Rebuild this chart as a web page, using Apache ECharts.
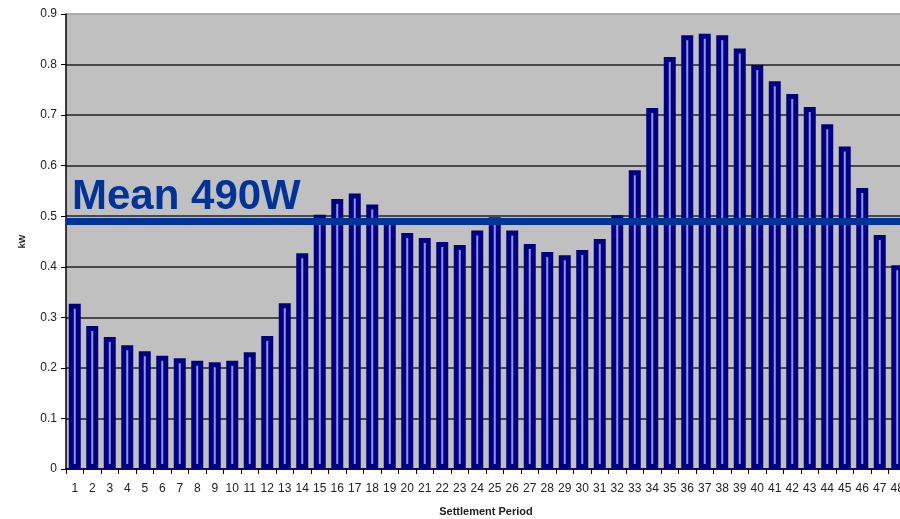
<!DOCTYPE html>
<html>
<head>
<meta charset="utf-8">
<script src="https://cdn.jsdelivr.net/npm/echarts@6/dist/echarts.min.js"></script>
<style>
  html, body { margin: 0; padding: 0; background: #fff; }
  #main { width: 900px; height: 519px; }
</style>
</head>
<body>
<div id="main"></div>
<script>
// settlement periods 1..48
const periods = [];
for (let i = 1; i <= 48; i++) periods.push(String(i));

// average demand per half hour, kW
const demandKw = [
  0.327, 0.283, 0.261, 0.245, 0.233, 0.224, 0.219, 0.214, 0.211, 0.214,
  0.231, 0.263, 0.328, 0.427, 0.503, 0.534, 0.545, 0.523, 0.494, 0.467,
  0.457, 0.449, 0.443, 0.472, 0.498, 0.472, 0.445, 0.429, 0.423, 0.433,
  0.455, 0.502, 0.591, 0.714, 0.815, 0.858, 0.861, 0.858, 0.832, 0.799,
  0.767, 0.742, 0.716, 0.682, 0.638, 0.556, 0.463, 0.403
];

const meanKw = 0.49;
const yTicks = [0, 0.1, 0.2, 0.3, 0.4, 0.5, 0.6, 0.7, 0.8, 0.9];

const chart = echarts.init(document.getElementById('main'));

const option = {
  animation: false,
  backgroundColor: '#ffffff',
  textStyle: { fontFamily: 'Liberation Sans, Arial, sans-serif' },
  grid: {
    left: 66,
    top: 14,
    width: 840,
    height: 455,
    outerBoundsMode: 'none',
    containLabel: false,
    show: true,
    backgroundColor: '#c0c0c0',
    borderWidth: 0
  },
  xAxis: {
    type: 'category',
    data: periods,
    name: 'Settlement Period',
    nameLocation: 'middle',
    nameGap: 37,
    nameTextStyle: { fontSize: 11, fontWeight: 'bold', color: '#222' },
    axisLine: { lineStyle: { color: '#000', width: 1.5 } },
    axisTick: { show: true, length: 5, lineStyle: { color: '#000' } },
    axisLabel: { interval: 0, fontSize: 12, color: '#222', margin: 14 },
    splitLine: { show: false }
  },
  yAxis: {
    type: 'value',
    min: 0,
    max: 0.9,
    interval: 0.1,
    name: 'kW',
    nameLocation: 'middle',
    nameGap: 39,
    nameRotate: 90,
    nameTextStyle: { fontSize: 9, fontWeight: 'bold', color: '#222' },
    axisLine: { show: true, lineStyle: { color: '#000', width: 1.5 } },
    axisTick: { show: true, length: 5, lineStyle: { color: '#000' } },
    axisLabel: {
      fontSize: 12,
      color: '#222',
      margin: 9,
      formatter: v => yTicks.includes(Math.round(v * 10) / 10) ? String(Math.round(v * 10) / 10) : ''
    },
    splitLine: {
      show: true,
      lineStyle: {
        color: ['#222', '#222', '#222', '#222', '#222', '#222', '#222', '#222', '#222', '#999'],
        width: 1.5
      }
    }
  },
  series: [{
    type: 'bar',
    data: demandKw,
    barWidth: 12,
    itemStyle: {
      color: '#9090ff',
      borderColor: '#000080',
      borderWidth: 5
    },
    markLine: {
      silent: true,
      symbol: ['none', 'none'],
      lineStyle: { color: '#003399', width: 7, type: 'solid' },
      label: {
        show: true,
        position: 'insideStartTop',
        formatter: 'Mean 490W',
        color: '#003399',
        fontSize: 42,
        fontWeight: 'bold',
        fontFamily: 'Liberation Sans, Arial, sans-serif',
        distance: [6, 3]
      },
      data: [{ yAxis: meanKw }]
    }
  }]
};

chart.setOption(option);

window.addEventListener('resize', function () {
  chart.resize();
});
</script>
</body>
</html>
